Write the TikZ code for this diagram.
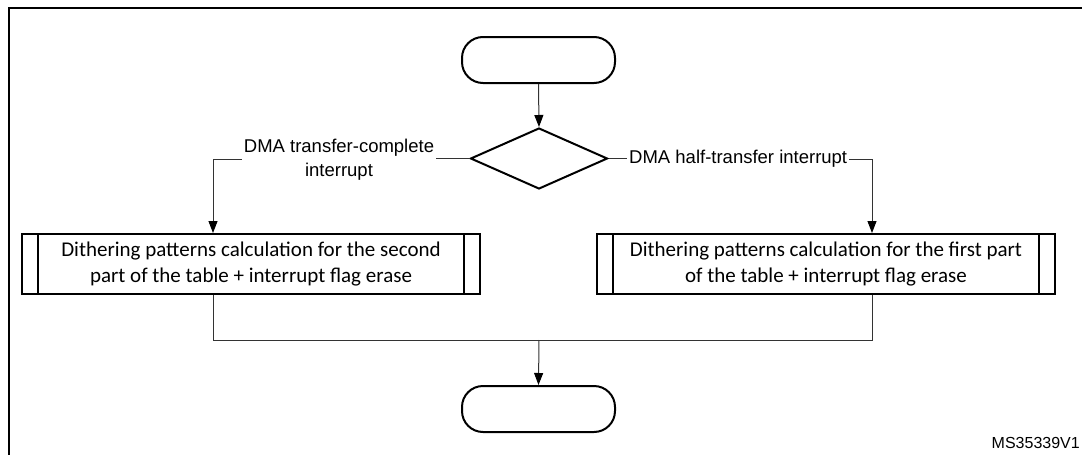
\documentclass[tikz,border=0pt]{standalone}
\usepackage{fontspec}
\setmainfont{Carlito}
\newfontfamily\labfont{Liberation Sans}
\usetikzlibrary{shapes.geometric,arrows.meta,calc}
\begin{document}
\begin{tikzpicture}[x=1pt,y=-1pt,
  shapeline/.style={draw=black,line width=2pt},
  term/.style={shapeline,rectangle,rounded corners=21pt,minimum width=153pt,minimum height=46pt,inner sep=0pt},
  decision/.style={shapeline,diamond,minimum width=137pt,minimum height=61pt,inner sep=0pt},
  procbox/.style={shapeline,rectangle,minimum width=458pt,minimum height=60pt,inner sep=0pt,align=center,font=\fontsize{21}{26}\selectfont},
  conn/.style={draw=black!80,line width=1pt},
  arrowconn/.style={conn,-{Triangle[length=12pt,width=9pt,color=black]}},
  lbl/.style={font=\labfont\fontsize{18.5}{24}\selectfont,inner sep=2pt,align=center}
]
\useasboundingbox (0,0) rectangle (1082,455);
% frame
\draw[line width=2pt] (9,460) -- (9,7.5) -- (1090,7.5);

\node[term] (start) at (538.5,60) {};
\node[decision] (dec) at (539,158.5) {};
\node[lbl] (labL) at (339,160) {DMA transfer-complete\\interrupt};
\node[lbl,anchor=west] (labR) at (627,159) {DMA half-transfer interrupt};
\node[procbox] (boxL) at (251,264) {Dithering patterns calculation for the second\\part of the table + interrupt flag erase};
\node[procbox] (boxR) at (826,264) {Dithering patterns calculation for the first part\\of the table + interrupt flag erase};
\node[term] (stop) at (538.5,409) {};
\node[font=\labfont\fontsize{16}{19}\selectfont,anchor=east,inner sep=0pt] (msid) at (1080,443) {MS35339V1};

% inner bars of the predefined-process boxes
\foreach \b in {boxL,boxR}{
  \draw[line width=2pt] ([xshift=17pt]\b.north west) -- ([xshift=17pt]\b.south west);
  \draw[line width=2pt] ([xshift=-17pt]\b.north east) -- ([xshift=-17pt]\b.south east);
}

\coordinate (cL) at (213,159);
\coordinate (cR) at (872,159);
\coordinate (jn) at (539,340);

\draw[arrowconn] (start.south) -- (dec.north);
\draw[conn] (dec.west) -- (labL.east |- dec.west);
\draw[arrowconn] (labL.west |- cL) -- (cL) -- (cL |- boxL.north);
\draw[conn] (dec.east) -- (labR.west |- dec.east);
\draw[arrowconn] (labR.east |- cR) -- (cR) -- (cR |- boxR.north);
\draw[conn] (cL |- boxL.south) -- (cL |- jn) -- (cR |- jn) -- (cR |- boxR.south);
\draw[arrowconn] (jn) -- (stop.north);
\end{tikzpicture}
\end{document}
